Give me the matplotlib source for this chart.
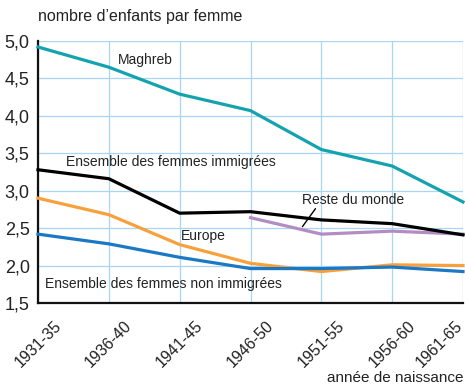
import matplotlib
matplotlib.use("Agg")
import matplotlib.pyplot as plt
from matplotlib.transforms import ScaledTranslation

# Birth cohorts and completed fertility (children per woman)
cohorts = ["1931-35", "1936-40", "1941-45", "1946-50", "1951-55", "1956-60", "1961-65"]
maghreb = [4.92, 4.65, 4.29, 4.07, 3.55, 3.33, 2.85]
immigrees = [3.28, 3.16, 2.70, 2.72, 2.61, 2.56, 2.41]
europe = [2.90, 2.68, 2.28, 2.03, 1.92, 2.01, 2.00]
non_immigrees = [2.42, 2.29, 2.11, 1.96, 1.96, 1.98, 1.92]
reste_cohorts = ["1946-50", "1951-55", "1956-60", "1961-65"]
reste_monde = [2.64, 2.42, 2.46, 2.42]
y_ticks = [1.5, 2.0, 2.5, 3.0, 3.5, 4.0, 4.5, 5.0]

plt.rcParams["font.family"] = ["Liberation Sans", "DejaVu Sans"]

fig = plt.figure(figsize=(4.65, 3.9), dpi=100)
ax = fig.add_axes([38 / 465, 87 / 390, 425 / 465, 262 / 390])

xi = list(range(len(cohorts)))
xr = [cohorts.index(c) for c in reste_cohorts]

lw = 2.3
ax.plot(xi, maghreb, color="#14a3ae", lw=lw, clip_on=False, zorder=3)
ax.plot(xi, europe, color="#f7a03c", lw=lw, clip_on=False, zorder=3)
ax.plot(xi, non_immigrees, color="#1b78c4", lw=lw, clip_on=False, zorder=4)
ax.plot(xr, reste_monde, color="#b48cc4", lw=lw, clip_on=False, zorder=3)
ax.plot(xi, immigrees, color="black", lw=lw, clip_on=False, zorder=5)

ax.set_xlim(0, 6)
ax.set_ylim(1.5, 5.0)
ax.set_yticks(y_ticks)
ax.set_yticklabels([f"{v:.1f}".replace(".", ",") for v in y_ticks], fontsize=13, color="#222222")
ax.set_xticks(xi)
ax.set_xticklabels(cohorts, rotation=45, ha="center", va="top", fontsize=11.5, color="#222222")
ax.tick_params(axis="y", length=0, pad=6)
ax.tick_params(axis="x", length=0, pad=11)

# keep the last cohort label inside the figure
last = ax.get_xticklabels()[-1]
last.set_transform(last.get_transform() + ScaledTranslation(-0.24, 0, fig.dpi_scale_trans))

ax.grid(True, color="#a9d5f2", lw=0.9)
ax.set_axisbelow(True)
for s in ("top", "right"):
    ax.spines[s].set_visible(False)
for s in ("left", "bottom"):
    ax.spines[s].set_linewidth(1.6)
    ax.spines[s].set_color("#111111")

tc = "#222222"
ax.text(1.52, 4.75, "Maghreb", fontsize=10, color=tc, ha="center", va="center")
ax.text(1.87, 3.39, "Ensemble des femmes immigrées", fontsize=10, color=tc, ha="center", va="center")
ax.text(2.34, 2.39, "Europe", fontsize=10, color=tc, ha="center", va="center")
ax.text(4.45, 2.88, "Reste du monde", fontsize=10, color=tc, ha="center", va="center")
ax.annotate("", xy=(3.71, 2.49), xytext=(3.94, 2.79),
            arrowprops=dict(arrowstyle="-", color="black", lw=1.0))
ax.text(1.77, 1.75, "Ensemble des femmes non immigrées", fontsize=10, color=tc, ha="center", va="center")

fig.text(38 / 465, 1 - 16 / 390, "nombre d\u2019enfants par femme", fontsize=11.5,
         color=tc, ha="left", va="center")
fig.text(463 / 465, 1 - 378 / 390, "année de naissance", fontsize=11,
         color=tc, ha="right", va="center")

fig.savefig("out.png", dpi=100)
